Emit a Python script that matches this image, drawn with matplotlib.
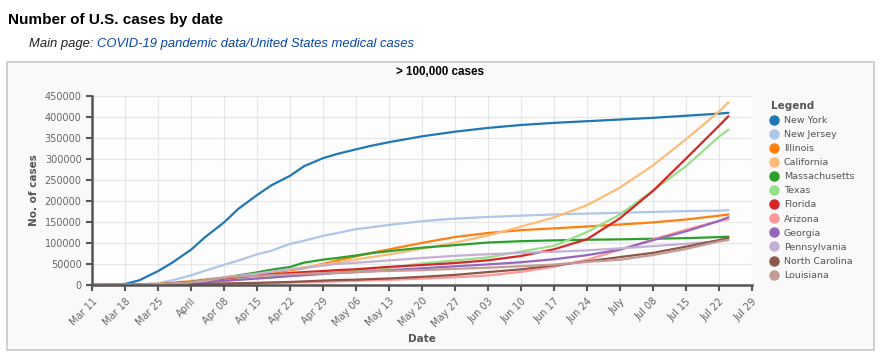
import numpy as np
import matplotlib
matplotlib.use("Agg")
import matplotlib.pyplot as plt
from matplotlib.patches import Rectangle
from datetime import date

# sample dates (roughly twice weekly early on, weekly afterwards, plus last reported day)
dates = [date(2020, 3, 11), date(2020, 3, 18), date(2020, 3, 21), date(2020, 3, 25),
         date(2020, 3, 28), date(2020, 4, 1), date(2020, 4, 4), date(2020, 4, 8),
         date(2020, 4, 11), date(2020, 4, 15), date(2020, 4, 18), date(2020, 4, 22),
         date(2020, 4, 25), date(2020, 4, 29), date(2020, 5, 2), date(2020, 5, 6),
         date(2020, 5, 9), date(2020, 5, 13), date(2020, 5, 20), date(2020, 5, 27),
         date(2020, 6, 3), date(2020, 6, 10), date(2020, 6, 17), date(2020, 6, 24),
         date(2020, 7, 1), date(2020, 7, 8), date(2020, 7, 15), date(2020, 7, 22),
         date(2020, 7, 24)]

new_york = [216, 2480, 11000, 33000, 53000, 84000, 114000, 149000, 181000, 214000,
            237000, 260000, 283000, 302000, 312000, 323000, 331000, 340000, 354000,
            365000, 374000, 381000, 386000, 390000, 394000, 398000, 403000, 408000,
            410000]
new_jersey = [29, 270, 1300, 4400, 11100, 23000, 34100, 48000, 58100, 73000, 81400,
              98000, 105500, 117000, 123700, 133000, 137000, 143000, 152000, 158000,
              162000, 165000, 168000, 170000, 172000, 174000, 176000, 177000, 178000]
illinois = [25, 290, 750, 1900, 3500, 6900, 10300, 15000, 19200, 24600, 29200, 35100,
            39700, 50400, 58500, 68200, 76100, 84700, 100400, 114300, 123800, 130600,
            134800, 139400, 144000, 149000, 156000, 165000, 168000]
california = [180, 800, 1400, 3000, 5500, 9900, 13800, 18000, 22300, 26700, 31500,
              37300, 42400, 48700, 54000, 60600, 66000, 72800, 86200, 101000, 118000,
              139000, 161000, 190000, 232000, 285000, 347000, 413000, 435000]
massachusetts = [95, 260, 530, 1800, 4300, 7700, 11700, 16800, 22900, 29900, 36400,
                 42900, 53300, 60300, 64300, 70300, 75300, 80500, 88900, 94900, 101100,
                 104300, 106200, 107800, 108700, 110100, 111600, 114000, 115000]
texas = [20, 170, 400, 1400, 2500, 4100, 6800, 9300, 12900, 15500, 18300, 21900, 24600,
         28100, 31500, 34400, 37200, 41000, 51300, 58400, 65600, 79800, 93200, 125900,
         168000, 225000, 283000, 353000, 370000]
florida = [15, 300, 760, 1700, 4000, 7000, 11500, 15500, 18500, 22500, 25500, 28600,
           30800, 33200, 35500, 37400, 40000, 43200, 47500, 52300, 58800, 69100, 85000,
           109000, 159000, 224000, 301000, 379000, 402000]
arizona = [9, 27, 100, 400, 770, 1400, 2300, 3000, 3400, 3800, 4700, 5800, 6500, 7600,
           8600, 9700, 11100, 12200, 15300, 18500, 22800, 31300, 43400, 59900, 84100,
           108600, 131400, 152900, 156300]
georgia = [30, 200, 600, 1500, 2400, 4700, 6600, 10200, 12200, 15400, 17700, 21100,
           23200, 26300, 28600, 30700, 32600, 35400, 39800, 44600, 49000, 54200, 61300,
           71100, 84200, 106700, 127800, 152300, 161400]
pennsylvania = [20, 130, 370, 1700, 3100, 5800, 10000, 18200, 22000, 27000, 31700,
                37600, 40800, 46300, 50100, 52900, 55300, 58600, 64400, 69400, 73400,
                76400, 79100, 82500, 87200, 92600, 98000, 104400, 107400]
north_carolina = [10, 60, 180, 600, 1000, 1600, 2500, 3400, 4300, 5100, 6100, 7200,
                  8600, 10500, 11700, 12700, 14000, 15500, 19500, 24100, 30800, 37200,
                  46800, 56200, 66500, 76500, 91300, 106900, 112100]
louisiana = [10, 350, 600, 1800, 3300, 6400, 12500, 17000, 20000, 21500, 23600, 25300,
             26500, 27700, 29300, 30400, 32100, 33500, 35300, 38500, 41100, 44800, 48600,
             55000, 60200, 71300, 85800, 103700, 107500]

states = ["New York", "New Jersey", "Illinois", "California", "Massachusetts", "Texas",
          "Florida", "Arizona", "Georgia", "Pennsylvania", "North Carolina", "Louisiana"]
series = [new_york, new_jersey, illinois, california, massachusetts, texas,
          florida, arizona, georgia, pennsylvania, north_carolina, louisiana]
colors = ["#1f77b4", "#aec7e8", "#ff7f0e", "#ffbb78", "#2ca02c", "#98df8a",
          "#d62728", "#ff9896", "#9467bd", "#c5b0d5", "#8c564b", "#c49c94"]

tick_dates = [date(2020, 3, 11), date(2020, 3, 18), date(2020, 3, 25), date(2020, 4, 1),
              date(2020, 4, 8), date(2020, 4, 15), date(2020, 4, 22), date(2020, 4, 29),
              date(2020, 5, 6), date(2020, 5, 13), date(2020, 5, 20), date(2020, 5, 27),
              date(2020, 6, 3), date(2020, 6, 10), date(2020, 6, 17), date(2020, 6, 24),
              date(2020, 7, 1), date(2020, 7, 8), date(2020, 7, 15), date(2020, 7, 22),
              date(2020, 7, 29)]
tick_labels = ["Mar 11", "Mar 18", "Mar 25", "April", "Apr 08", "Apr 15", "Apr 22",
               "Apr 29", "May 06", "May 13", "May 20", "May 27", "Jun 03", "Jun 10",
               "Jun 17", "Jun 24", "July", "Jul 08", "Jul 15", "Jul 22", "Jul 29"]
y_ticks = [0, 50000, 100000, 150000, 200000, 250000, 300000, 350000, 400000, 450000]

W, H = 886, 356
fig = plt.figure(figsize=(W / 100, H / 100), dpi=100)
fig.patch.set_facecolor("white")

# chart frame
fig.add_artist(Rectangle((7 / W, 1 - 350 / H), 867 / W, 288 / H, transform=fig.transFigure,
                         facecolor="#f9f9f9", edgecolor="#c8c8c8", linewidth=1.2, zorder=0))

fig.text(8 / W, 1 - 20 / H, "Number of U.S. cases by date", fontsize=11,
         fontweight="bold", family="Liberation Sans", va="center", ha="left")
t1 = fig.text(29 / W, 1 - 44 / H, "Main page: ", fontsize=9.4, style="italic",
              family="Liberation Sans", color="#222222", va="center", ha="left")
fig.canvas.draw()
bb = t1.get_window_extent()
fig.text(bb.x1 / W, 1 - 44 / H, "COVID-19 pandemic data/United States medical cases",
         fontsize=9.4, style="italic", family="Liberation Sans", color="#0645ad",
         va="center", ha="left")

fig.text(440 / W, 1 - 72 / H, "> 100,000 cases", fontsize=8.4, fontweight="bold",
         family="Liberation Sans", ha="center", va="center")

ax = fig.add_axes([92 / W, 1 - 285 / H, 660 / W, 189 / H])
ax.set_facecolor("#fdfdfd")

for name, vals, c in zip(states, series, colors):
    ax.plot(dates, vals, color=c, linewidth=1.6, label=name, solid_capstyle="round")

ax.set_xlim(date(2020, 3, 11), date(2020, 7, 29))
ax.set_ylim(0, 450000)
ax.set_xticks(tick_dates)
ax.set_xticklabels(tick_labels, rotation=45, ha="right", rotation_mode="anchor")
ax.set_yticks(y_ticks)
ax.set_yticklabels([str(v) for v in y_ticks])
ax.tick_params(axis="both", labelsize=7, colors="#555555", labelcolor="#666666",
               length=4, width=1.5, direction="out")
ax.tick_params(axis="x", pad=4)
ax.grid(True, color="#e6e6e6", linewidth=0.8)
ax.set_axisbelow(True)
for s in ["top", "right"]:
    ax.spines[s].set_visible(False)
for s in ["left", "bottom"]:
    ax.spines[s].set_color("#555555")
    ax.spines[s].set_linewidth(1.8)

ax.set_ylabel("No. of cases", fontsize=7.5, fontweight="bold", color="#555555", labelpad=4)
ax.set_xlabel("Date", fontsize=7.5, fontweight="bold", color="#555555", labelpad=4)
ax.xaxis.set_label_coords(0.5, -0.26)

handles = [plt.Line2D([], [], marker="o", linestyle="", markersize=6.5, color=c)
           for c in colors]
leg = fig.legend(handles, states, loc="upper left", bbox_to_anchor=(766 / W, 1 - 96 / H),
                 frameon=False, title="Legend", fontsize=6.8, handlelength=0.6,
                 handletextpad=0.8, labelspacing=0.54, borderpad=0, alignment="left")
leg.get_title().set_fontweight("bold")
leg.get_title().set_fontsize(7.5)
leg.get_title().set_color("#555555")
for t in leg.get_texts():
    t.set_color("#555555")

fig.savefig("out.png", dpi=100)
